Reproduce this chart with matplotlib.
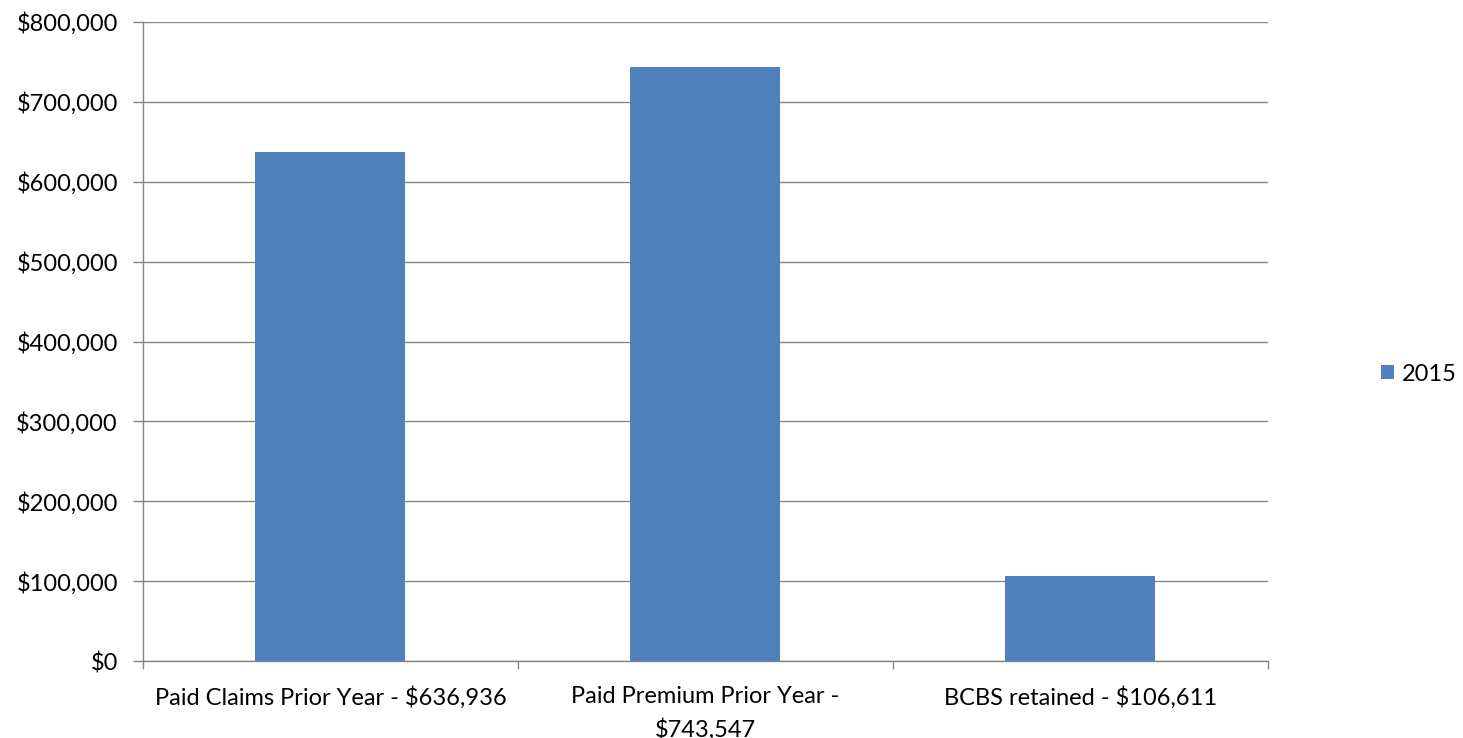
import matplotlib
matplotlib.use('Agg')
import matplotlib.pyplot as plt
from matplotlib.ticker import FuncFormatter

categories = ['Paid Claims Prior Year - $636,936',
              'Paid Premium Prior Year -\n$743,547',
              'BCBS retained - $106,611']
values_2015 = [636936, 743547, 106611]
series_name = '2015'

plt.rcParams['font.family'] = ['Lato', 'DejaVu Sans']
fs = 17

fig = plt.figure(figsize=(14.63, 7.38), dpi=100)
ax = fig.add_axes([0.0977, 0.1043, 0.7690, 0.8659])

x = range(len(categories))
ax.bar(x, values_2015, width=0.4, color='#4F81BD', label=series_name, zorder=3)

ax.set_xlim(-0.5, len(categories) - 0.5)
ax.set_ylim(0, 800000)
ax.set_yticks(range(0, 800001, 100000))
ax.yaxis.set_major_formatter(FuncFormatter(lambda v, p: '${:,.0f}'.format(v)))
ax.set_xticks(list(x))
ax.set_xticklabels(categories, linespacing=1.6)
ax.set_xticks([-0.5, 0.5, 1.5, 2.5], minor=True)
ax.tick_params(axis='x', which='major', length=0, pad=18, labelsize=fs)
ax.tick_params(axis='x', which='minor', length=6, color='#868686', width=1)
ax.tick_params(axis='y', length=7, color='#868686', width=1, labelsize=fs, pad=11)

ax.grid(axis='y', color='#868686', linewidth=1, zorder=0)
for s in ['top', 'right']:
    ax.spines[s].set_visible(False)
for s in ['left', 'bottom']:
    ax.spines[s].set_color('#868686')
    ax.spines[s].set_linewidth(1)

fig.legend(loc='center left', bbox_to_anchor=(0.944, 0.493), frameon=False,
           fontsize=fs, handlelength=0.55, handleheight=0.55, handletextpad=0.35,
           borderpad=0, borderaxespad=0)

fig.savefig('out.png', dpi=100)
